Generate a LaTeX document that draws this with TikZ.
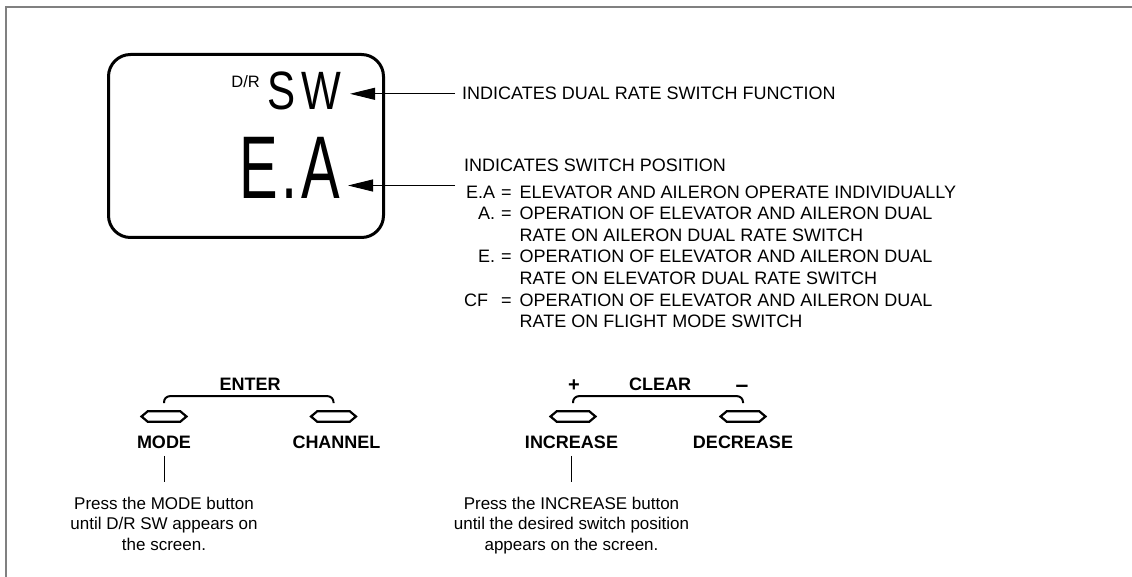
\documentclass[tikz,border=0pt]{standalone}
\usepackage{fontspec}
\setmainfont{Liberation Sans}
\usetikzlibrary{arrows.meta,positioning,shapes.symbols}
\definecolor{framegray}{HTML}{808080}

\tikzset{
  screen/.style={draw,line width=3pt,rounded corners=22pt,
                 minimum width=275pt,minimum height=183pt},
  lcd/.style={inner ysep=0pt},
  note/.style={font=\fontsize{18}{21.6}\selectfont,inner sep=0pt},
  key/.style={draw,line width=2.2pt,shape=signal,signal to=west and east,
              signal pointer angle=80,minimum width=45pt,
              minimum height=10.5pt,inner sep=0pt},
  keylbl/.style={font=\fontsize{18}{21.6}\selectfont\bfseries,
                 inner xsep=0pt,inner ysep=7.5pt},
  keytop/.style={font=\fontsize{18}{21.6}\selectfont\bfseries,inner sep=0pt},
  hint/.style={font=\fontsize{17}{20.5}\selectfont,align=center,
               inner xsep=0pt,inner ysep=14.5pt},
  pointer/.style={line width=0.9pt,-{Triangle[length=25pt,width=12pt]}},
  bracket/.style={line width=2pt,rounded corners=6pt},
}

\begin{document}
\begin{tikzpicture}[x=1pt,y=-1pt]
  \useasboundingbox (0,0) rectangle (1132,577);
  % frame
  \draw[framegray,line width=2pt] (6,577) -- (6,6.7) -- (1132,6.7);

  % display
  \node[screen] (screen) at (246,146) {};
  \node[lcd,anchor=base east,inner xsep=9pt,
        font=\fontsize{54}{54}\selectfont] (sw) at (350,110)
    {\scalebox{0.78}[1]{S\hspace{7pt}W}};
  \node[lcd,anchor=base east,inner xsep=0pt,
        font=\fontsize{16.5}{16.5}\selectfont] (dr) at (260,87.5) {D/R};
  \node[lcd,anchor=base east,inner xsep=8pt,
        font=\fontsize{89}{89}\selectfont] (ea) at (348,199)
    {\scalebox{0.65}[1]{E\kern5pt.\kern6pt A}};

  % explanations
  \node[note,anchor=base west,inner xsep=7pt] (swnote) at (455,100)
    {INDICATES DUAL RATE SWITCH FUNCTION};
  \node[note,anchor=base west] (posnote) at (464,171.5) {%
    \begin{tabular}[t]{@{}r@{\hspace{6pt}}c@{\hspace{8pt}}l@{}}
      \multicolumn{3}{@{}l@{}}{INDICATES SWITCH POSITION}\\[5pt]
      E.A & = & ELEVATOR AND AILERON OPERATE INDIVIDUALLY\\
      A. & = & OPERATION OF ELEVATOR AND AILERON DUAL\\
         &   & RATE ON AILERON DUAL RATE SWITCH\\
      E. & = & OPERATION OF ELEVATOR AND AILERON DUAL\\
         &   & RATE ON ELEVATOR DUAL RATE SWITCH\\
      CF\hspace{7pt} & = & OPERATION OF ELEVATOR AND AILERON DUAL\\
         &   & RATE ON FLIGHT MODE SWITCH
    \end{tabular}};
  \coordinate (eafrom) at (455,185.5);

  \draw[pointer] (swnote.west) -- (sw.east |- swnote.west);
  \draw[pointer] (eafrom) -- (ea.east |- eafrom);

  % keys
  \node[key] (modebtn) at (164,416.5) {};
  \node[key] (chanbtn) at (333.5,416.5) {};
  \node[key] (incbtn) at (573,416.5) {};
  \node[key] (decbtn) at (743,416.5) {};

  \node[keylbl,below=5pt of modebtn] (modelbl) {MODE};
  \node[keylbl,below=5pt of chanbtn,xshift=3pt] (chanlbl) {CHANNEL};
  \node[keylbl,below=5pt of incbtn,xshift=-1.5pt] (inclbl) {INCREASE};
  \node[keylbl,below=5pt of decbtn] (declbl) {DECREASE};

  \draw[bracket] ([yshift=7pt]modebtn.north) |- ([yshift=14pt]chanbtn.north)
    -- ([yshift=7pt]chanbtn.north);
  \draw[bracket] ([yshift=7pt]incbtn.north) |- ([yshift=14pt]decbtn.north)
    -- ([yshift=7pt]decbtn.north);

  \node[keytop,anchor=base] (enter) at (250,390.5) {ENTER};
  \node[keytop,anchor=base] (clear) at (660,390.5) {CLEAR};
  \node[keytop,anchor=base,font=\fontsize{20}{20}\selectfont\bfseries]
    (plus) at (574,391) {+};
  \node[keytop,anchor=base,font=\fontsize{23}{23}\selectfont\bfseries]
    (minus) at (742,392) {--};

  % hints
  \node[hint,below=26pt of modelbl] (modehint)
    {Press the MODE button\\until D/R SW appears on\\the screen.};
  \node[hint,below=26pt of inclbl] (inchint)
    {Press the INCREASE button\\until the desired switch position\\appears on the screen.};
  \draw[line width=0.9pt] (modelbl) -- (modehint);
  \draw[line width=0.9pt] (inclbl) -- (inchint);
\end{tikzpicture}
\end{document}
